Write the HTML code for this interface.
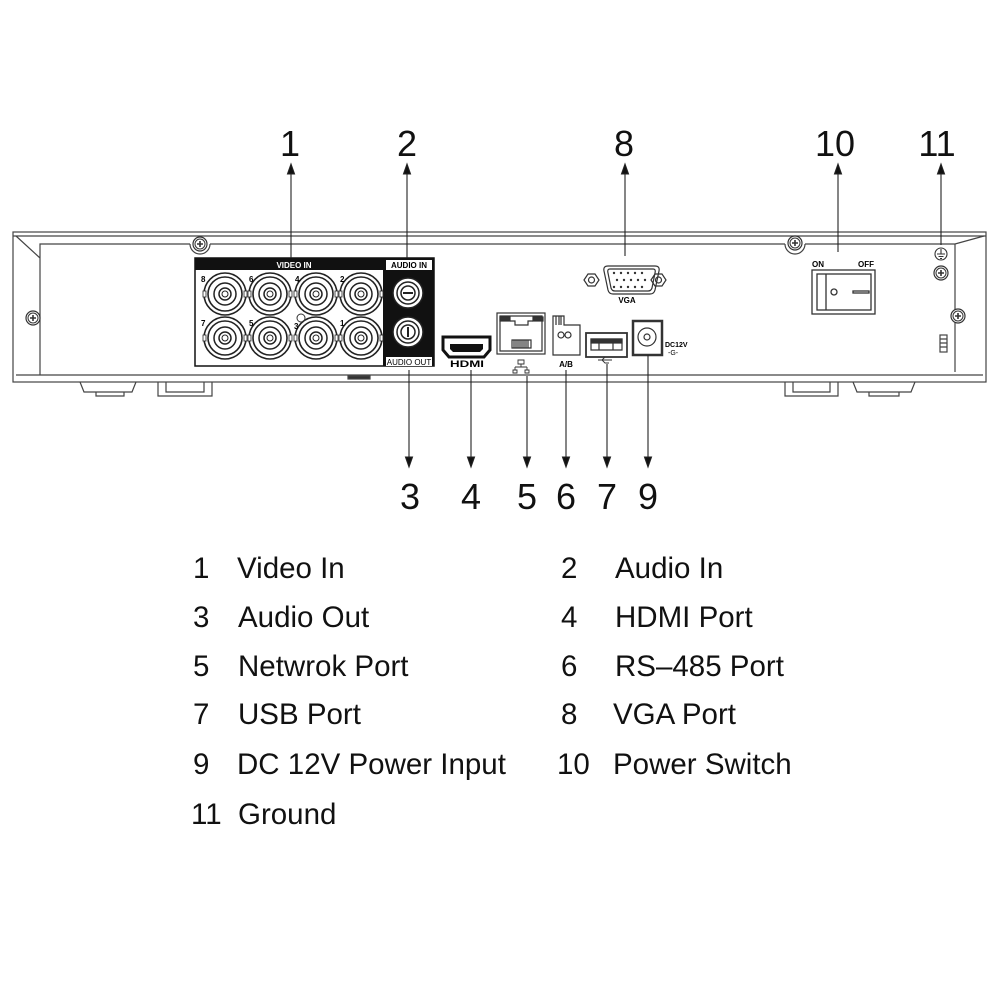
<!DOCTYPE html>
<html><head><meta charset="utf-8"><style>
html,body{margin:0;padding:0;background:#fff;width:1000px;height:1000px;overflow:hidden}
svg{display:block}
</style></head><body>
<svg width="1000" height="1000" viewBox="0 0 1000 1000" font-family="Liberation Sans, sans-serif">
<defs>
<g id="scr"><circle r="7" fill="#fff" stroke="#333" stroke-width="1.2"/><circle r="5" fill="none" stroke="#333" stroke-width="1"/><path d="M-3 0H3M0 -3V3" stroke="#333" stroke-width="1.6"/></g>
<g id="bnc"><circle r="21" fill="#fff" stroke="#222" stroke-width="1.6"/><circle r="17" fill="none" stroke="#222" stroke-width="1.6"/><circle r="11" fill="none" stroke="#222" stroke-width="1.5"/><circle r="6" fill="none" stroke="#222" stroke-width="1.5"/><circle r="3" fill="none" stroke="#222" stroke-width="1"/><rect x="-22" y="-3" width="3" height="6" fill="#fff" stroke="#222" stroke-width="0.8"/><rect x="19" y="-3" width="3" height="6" fill="#fff" stroke="#222" stroke-width="0.8"/></g>
<g id="rca"><circle r="15" fill="#fff" stroke="#222" stroke-width="1.5"/><circle r="11" fill="none" stroke="#222" stroke-width="1.5"/><circle r="7" fill="#fff" stroke="#222" stroke-width="1.5"/></g>
</defs>

<g fill="none" stroke="#444" stroke-width="1.2">
<rect x="13" y="232" width="973" height="150"/>
<line x1="13" y1="236" x2="986" y2="236"/>
<path d="M40 375 V258 L16 236 M40 258 V244 H190 M210 244 H785 M805 244 H955 L984 236 M955 244 V372"/>
<path d="M190 244 a10 10 0 0 0 20 0 M785 244 a10 10 0 0 0 20 0"/>
<line x1="16" y1="375" x2="983" y2="375"/>
<path d="M80 382 L84 392 H132 L136 382 M96 392 V396 H124 V392"/>
<path d="M158 382 V396 H212 V382 M166 382 V392 H204 V382"/>
<path d="M785 382 V396 H838 V382 M793 382 V392 H830 V382"/>
<path d="M853 382 L857 392 H911 L915 382 M869 392 V396 H899 V392"/>
<rect x="348" y="376" width="22" height="3" fill="#333"/>
<rect x="940" y="335" width="7" height="17"/>
<path d="M940 339H947M940 343H947M940 347H947"/>
</g>
<use href="#scr" x="200" y="244"/><use href="#scr" x="795" y="243"/>
<use href="#scr" x="33" y="318"/><use href="#scr" x="958" y="316"/>
<use href="#scr" x="941" y="273"/>
<g stroke="#333" stroke-width="1.1" fill="none"><circle cx="941" cy="254" r="6"/><path d="M941 249V254M937 254H945M938.5 256.5H943.5M940 258.5H942"/></g>

<rect x="195" y="258" width="239" height="108" fill="#fff" stroke="#111" stroke-width="1.5"/>
<rect x="195" y="258" width="188" height="12" fill="#111"/>
<text x="294" y="268" font-size="8" font-weight="bold" fill="#fff" text-anchor="middle">VIDEO IN</text>
<rect x="383" y="258" width="51" height="108" fill="#111"/>
<rect x="386" y="260" width="46" height="10" fill="#fff"/>
<text x="409" y="268" font-size="8" font-weight="bold" text-anchor="middle">AUDIO IN</text>
<rect x="386" y="357" width="46" height="9" fill="#fff"/>
<text x="409" y="365" font-size="8" text-anchor="middle">AUDIO OUT</text>
<use href="#bnc" x="225" y="294"/><use href="#bnc" x="270" y="294"/><use href="#bnc" x="316" y="294"/><use href="#bnc" x="361" y="294"/>
<use href="#bnc" x="225" y="338"/><use href="#bnc" x="270" y="338"/><use href="#bnc" x="316" y="338"/><use href="#bnc" x="361" y="338"/>
<g font-size="8" font-weight="bold"><text x="201" y="282">8</text><text x="249" y="282">6</text><text x="295" y="282">4</text><text x="340" y="282">2</text>
<text x="201" y="326">7</text><text x="249" y="326">5</text><text x="294" y="329">3</text><text x="340" y="326">1</text></g>
<circle cx="301" cy="318" r="4" fill="none" stroke="#333"/>
<use href="#rca" x="408" y="293"/><use href="#rca" x="408" y="332"/>
<rect x="403" y="292" width="10" height="2" fill="#222"/><rect x="407" y="327" width="2" height="10" fill="#222"/>

<path d="M443 337 H490 V350 L484 357 H449 L443 350 Z" fill="#fff" stroke="#111" stroke-width="3"/>
<path d="M450 344 H483 V349 L480 352 H453 L450 349 Z" fill="#111"/>
<text x="467" y="367" font-size="9" font-weight="bold" text-anchor="middle" textLength="34" lengthAdjust="spacingAndGlyphs">HDMI</text>

<g fill="none" stroke="#333" stroke-width="1.2">
<rect x="497" y="313" width="48" height="41"/>
<path d="M500 316 H542 V351 H500 Z"/>
<rect x="500" y="317" width="10" height="4" fill="#333"/><rect x="533" y="317" width="10" height="4" fill="#333"/>
<path d="M510 321 H515 V325 H528 V321 H533 M512 340 H531 V348 H512 Z"/>
<path d="M514 340V348M516 340V348M518 340V348M520 340V348M522 340V348M524 340V348M526 340V348M528 340V348"/>
<path d="M518 360 h6 v4 h-6z M521 364 v3 M515 367 h12 M515 367 v3 M527 367 v3 M513 370 h4 v3 h-4z M525 370 h4 v3 h-4z" stroke-width="0.9"/>
<path d="M553 316 H564 V325 H580 V355 H553 Z"/>
<path d="M556 316 V325 M561 316 V325 M559 316 V325"/>
<circle cx="561" cy="335" r="3"/><circle cx="568" cy="335" r="3"/>
<rect x="586" y="333" width="41" height="24" stroke-width="1.8"/>
<path d="M591 339 H622 V350 H591 Z M599 343 V350 M613 343 V350"/>
<rect x="591" y="339" width="31" height="4" fill="#333"/>
<path d="M598 360 H612 M602 360 l3 -3 h4 M602 360 l3 3 h4" stroke-width="0.9"/>
<rect x="633" y="321" width="29" height="34" stroke-width="2.5"/>
<circle cx="647" cy="337" r="9"/><circle cx="647" cy="337" r="3"/>
</g>
<text x="566" y="367" font-size="8" font-weight="bold" text-anchor="middle">A/B</text>
<text x="665" y="347" font-size="7" font-weight="bold">DC12V</text>
<text x="668" y="355" font-size="7">-G-</text>

<g fill="none" stroke="#333" stroke-width="1.2">
<path d="M584 280 l4 -6 h7 l4 6 l-4 6 h-7z"/><circle cx="591.5" cy="280" r="3"/>
<path d="M651 280 l4 -6 h7 l4 6 l-4 6 h-7z"/><circle cx="658.5" cy="280" r="3"/>
<path d="M608 266 H655 Q660 266 659 271 L655 290 Q654 294 650 294 H613 Q609 294 608 290 L604 271 Q603 266 608 266Z"/>
<path d="M610 269 H653 Q656 269 655 273 L652 288 Q651 291 648 291 H615 Q612 291 611 288 L608 273 Q607 269 610 269Z"/>
</g>
<g fill="#333"><circle cx="614" cy="273" r="1.2"/><circle cx="621" cy="273" r="1.2"/><circle cx="628" cy="273" r="1.2"/><circle cx="635" cy="273" r="1.2"/><circle cx="642" cy="273" r="1.2"/>
<circle cx="617" cy="280" r="1.2"/><circle cx="624" cy="280" r="1.2"/><circle cx="631" cy="280" r="1.2"/><circle cx="638" cy="280" r="1.2"/><circle cx="645" cy="280" r="1.2"/>
<circle cx="614" cy="287" r="1.2"/><circle cx="621" cy="287" r="1.2"/><circle cx="628" cy="287" r="1.2"/><circle cx="635" cy="287" r="1.2"/><circle cx="642" cy="287" r="1.2"/></g>
<text x="627" y="303" font-size="8" font-weight="bold" text-anchor="middle">VGA</text>

<text x="812" y="267" font-size="8" font-weight="bold">ON</text>
<text x="858" y="267" font-size="8" font-weight="bold">OFF</text>
<g fill="none" stroke="#333" stroke-width="1.3">
<rect x="812" y="270" width="63" height="44"/><rect x="817" y="274" width="54" height="36"/>
<line x1="826" y1="274" x2="826" y2="310"/><circle cx="834" cy="292" r="3"/><rect x="853" y="291" width="16" height="2"/>
</g>

<g stroke="#222" stroke-width="1.1" fill="#111">
<line x1="291" y1="170" x2="291" y2="258"/><path d="M291 164 l-3.5 10 h7z"/>
<line x1="407" y1="170" x2="407" y2="258"/><path d="M407 164 l-3.5 10 h7z"/>
<line x1="625" y1="170" x2="625" y2="256"/><path d="M625 164 l-3.5 10 h7z"/>
<line x1="838" y1="170" x2="838" y2="252"/><path d="M838 164 l-3.5 10 h7z"/>
<line x1="941" y1="170" x2="941" y2="245"/><path d="M941 164 l-3.5 10 h7z"/>
<line x1="409" y1="370" x2="409" y2="460"/><path d="M409 467 l-3.5 -10 h7z"/>
<line x1="471" y1="370" x2="471" y2="460"/><path d="M471 467 l-3.5 -10 h7z"/>
<line x1="527" y1="376" x2="527" y2="460"/><path d="M527 467 l-3.5 -10 h7z"/>
<line x1="566" y1="370" x2="566" y2="460"/><path d="M566 467 l-3.5 -10 h7z"/>
<line x1="607" y1="364" x2="607" y2="460"/><path d="M607 467 l-3.5 -10 h7z"/>
<line x1="648" y1="355" x2="648" y2="460"/><path d="M648 467 l-3.5 -10 h7z"/>
</g>
<g font-size="36" fill="#111" text-anchor="middle">
<text x="290" y="156">1</text><text x="407" y="156">2</text><text x="624" y="156">8</text><text x="835" y="156">10</text><text x="937" y="156">11</text>
<text x="410" y="509">3</text><text x="471" y="509">4</text><text x="527" y="509">5</text><text x="566" y="509">6</text><text x="607" y="509">7</text><text x="648" y="509">9</text>
</g>

<g font-size="29.5" fill="#111">
<text x="193" y="578">1</text><text x="237" y="578">Video In</text>
<text x="561" y="578">2</text><text x="615" y="578">Audio In</text>
<text x="193" y="627">3</text><text x="238" y="627">Audio Out</text>
<text x="561" y="627">4</text><text x="615" y="627">HDMI Port</text>
<text x="193" y="676">5</text><text x="238" y="676">Netwrok Port</text>
<text x="561" y="676">6</text><text x="615" y="676">RS–485 Port</text>
<text x="193" y="724">7</text><text x="238" y="724">USB Port</text>
<text x="561" y="724">8</text><text x="613" y="724">VGA Port</text>
<text x="193" y="774">9</text><text x="237" y="774">DC 12V Power Input</text>
<text x="557" y="774">10</text><text x="613" y="774">Power Switch</text>
<text x="191" y="824">11</text><text x="238" y="824">Ground</text>
</g>
</svg>
</body></html>
